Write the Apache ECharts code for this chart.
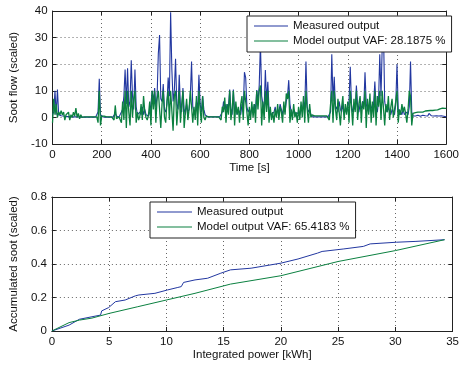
<!DOCTYPE html>
<html><head><meta charset="utf-8">
<script src="https://cdn.jsdelivr.net/npm/echarts@6/dist/echarts.min.js"></script>
<style>html,body{margin:0;padding:0;background:#fff;}#c{width:462px;height:367px;}</style>
</head><body><div id="c"></div>
<script>
// ---- Top plot: soot flow vs time (sampled every 5 s) ----
var timeStep = 5;
var measuredFlow = [
 1,2,10,1,10.5,1,0.8,0.6,0.5,0.5,0.4,0.3,0.3,0.3,0.3,0.2,0.2,0.2,0.2,0.2,
 0.2,0.2,0.2,0.1,0.1,0.1,0.1,0.1,0.1,0.1,0.1,0.1,0.1,0.1,0.1,0.1,0.1,2,14.5,1,
 0.3,0.2,0.1,0.1,0.1,0.1,0.1,0.1,0.1,0.1,0.1,1.5,0.5,0.1,0.1,0.5,2,3,8,18,
 5,18.5,4,6,21.5,8,3,18,4,1,0.5,2,1,4,1,3,1,0.5,0.5,2,
 5,10,6,11,4,8,24,31,7,6,12.5,3,2,5,15,8,39.5,18,6,10,
 22,5,3,16,4,2,11,3,1,5,2,3,8,21,4,2,1,6,3,16,
 5,2,8,3,1,0.3,0.2,0.2,0.2,0.2,0.2,0.2,0.2,0.2,0.2,0.2,0.2,0.5,2,6,
 3,5,2,4,10.5,3,1,10.5,2,4,1,3,2,1,5,2,17,15,4,2,
 3,1,4,2,5,3,10.3,6,12,28,8,5,3,17.8,6,13.4,3,2,1,0.5,
 2,4,1,3,2,5,3,1,4,2,6,8,14,5,2,1,3,2,1,0.5,
 2,1,4,2,6,3,21,4,2,3,1,0.5,0.2,0.2,0.2,0.2,0.2,0.2,0.2,0.2,
 0.2,0.2,0.2,0.2,0.2,0.2,2,23.7,6,15.3,3,4,2,6,3,2,5,1,3,2,
 4,6,19,5,2,4,3,12,4,2,5,3,6,4,17,5,3,2,6,4,
 3,5,13.5,4,2,6,23.7,8,27,33,6,3,2,4,2,1,3,2,1,5,
 20,3,1,2,1,3,1,0.5,2,1,4,21,2,0.5,0.3,0.5,1,0.8,0.5,0.4,
 0.5,0.8,1,0.6,0.5,0.5,1.5,0.8,0.6,0.5,0.5,0.4,0.6,0.5,0.5,1.2,0.6,0.5,0.4,0.3,0.2
];
var modelFlow = [
 -2,7,1,5,0,2,1,2.5,1,2,-1,1,0.5,2,-1,1,0,2,0.5,3.5,
 0,1.5,-0.5,1,0,0.5,0.2,0.2,0.2,0.2,0.2,0.2,0.2,0.2,0.2,0.2,0.2,-2,10,-3,
 0.5,0,0.5,0.2,0.2,0.2,0.2,0.2,0.2,0.2,-1,4.5,-0.5,0.2,0.2,0.5,-2,6,-1,10,
 -4,10,2,-3,10,0,7,10,-2,2,-1,0.5,5,-1,8,2,0,-1,1,6,
 -3,10,3,10,-2,7,10,10,-4,5,10,0,-2,6,10,-1,10,10,-5,8,
 10,-3,4,10,-2,5,10,-4,2,7,-1,3,10,10,-2,4,-1,8,-3,10,
 3,-2,8,0,-1,0.5,0.2,0.2,0.2,0.2,0.2,0.2,0.2,0.2,0.2,0.2,0.3,-1,4,2,
 7.5,-2,5,1,10,-1,3,10,-3,6,1,4,-2,5,8,-1,10,10,2,-3,
 4,-1,6,0,5,-2,10,3,10,12,-3,6,-1,10,2,10,-2,4,-1,2,
 -2,3,0,5,-1,4,2,-2,6,1,9,7,10,-2,3,-1,5,0,2,-2,
 4,-1,6,0,8,-2,10,3,-2,5,0,1,0.5,0.6,0.6,0.6,0.6,0.6,0.6,0.6,
 0.6,0.6,0.6,0.6,0.6,-1,5,10,-2,10,3,-1,7,2,-3,4,8,-1,5,1,
 6,-2,10,4,-3,7,2,10,-1,5,8,-2,6,3,10,-4,7,1,9,-2,
 6,0,10,-3,8,4,10,-1,10,10,-3,5,2,8,-1,4,7,0,3,6,
 10,-2,3,1,5,2,4,1.5,-2,3,10,8,-3,1.5,1.8,1.8,2,2,2,2,
 2,2,2.2,2.4,2.5,2.5,2.6,2.6,2.5,2.6,2.7,2.7,2.8,2.8,2.9,3.2,3.4,3.5,3.5,3.4,3.4
];
var topLegend = ['Measured output', 'Model output VAF: 28.1875 %'];

// ---- Bottom plot: accumulated soot vs integrated power ----
var measuredPower = [0,1.5,2.4,3.5,4.25,4.35,4.96,5.55,6.4,7.3,7.6,9.0,10.1,11.0,11.3,11.5,12.5,13.6,14.75,15.6,17.4,20.0,21.5,23.2,23.6,25.5,27.2,27.8,30.1,31.8,34.3];
var measuredSoot  = [0,0.035,0.07,0.085,0.095,0.12,0.14,0.175,0.185,0.21,0.215,0.225,0.245,0.26,0.265,0.29,0.305,0.315,0.345,0.365,0.375,0.405,0.43,0.465,0.475,0.49,0.505,0.52,0.53,0.535,0.545];
var modelPower = [0,1.5,2.4,3.5,5,7.5,10,12.5,15.6,20,25,30,34.3];
var modelSoot  = [0,0.05,0.065,0.077,0.105,0.145,0.185,0.225,0.28,0.33,0.415,0.48,0.545];
var bottomLegend = ['Measured output ', 'Model output VAF: 65.4183 %'];

var BLUE = '#2237a0', GREEN = '#0b8040';
var FONT = 'Liberation Sans';
function pairs(xs, ys){ return ys.map(function(y,i){ return [xs[i], y]; }); }
function stepPairs(ys){ return ys.map(function(y,i){ return [i*timeStep, y]; }); }
function plain(v){ return String(v); }

var gridLine = {show:true, lineStyle:{color:'#666', type:[1,3], width:1}};
var lbl = {color:'#111', fontFamily:FONT, fontSize:11.5, formatter:plain};
var nameStyle = {color:'#111', fontFamily:FONT, fontSize:11.5};
function mainX(gi, min, max, iv, name, gap){
  return {type:'value', gridIndex:gi, min:min, max:max, interval:iv, position:'bottom',
    axisLine:{show:true, onZero:false, lineStyle:{color:'#222', width:1}},
    axisTick:{show:true, inside:true, length:4, lineStyle:{color:'#222'}},
    axisLabel:Object.assign({margin:5}, lbl), splitLine:gridLine,
    name:name, nameLocation:'middle', nameGap:gap, nameTextStyle:nameStyle};
}
function mirrorX(gi, min, max, iv){
  return {type:'value', gridIndex:gi, min:min, max:max, interval:iv, position:'top',
    axisLine:{show:true, onZero:false, lineStyle:{color:'#222', width:1}},
    axisTick:{show:true, inside:true, length:4, lineStyle:{color:'#222'}},
    axisLabel:{show:false}, splitLine:{show:false}};
}
function mainY(gi, min, max, iv, name, gap){
  return {type:'value', gridIndex:gi, min:min, max:max, interval:iv, position:'left',
    axisLine:{show:true, onZero:false, lineStyle:{color:'#222', width:1}},
    axisTick:{show:true, inside:true, length:4, lineStyle:{color:'#222'}},
    axisLabel:Object.assign({margin:5}, lbl), splitLine:gridLine,
    name:name, nameLocation:'middle', nameGap:gap, nameTextStyle:nameStyle};
}
function mirrorY(gi, min, max, iv){
  return {type:'value', gridIndex:gi, min:min, max:max, interval:iv, position:'right',
    axisLine:{show:true, onZero:false, lineStyle:{color:'#222', width:1}},
    axisTick:{show:true, inside:true, length:4, lineStyle:{color:'#222'}},
    axisLabel:{show:false}, splitLine:{show:false}};
}
function legendBox(names, left, top, iw){
  return {data:names, orient:'vertical', left:left, top:top, padding:[4,6,5,7], itemGap:3,
    icon:'rect', itemWidth:iw, itemHeight:1.2, backgroundColor:'#fff', borderColor:'#222', borderWidth:1, borderRadius:0,
    textStyle:{color:'#111', fontFamily:FONT, fontSize:11.5, padding:[0,0,0,0]}, selectedMode:false};
}

var chart = echarts.init(document.getElementById('c'), null, {renderer:'canvas'});
chart.setOption({
  animation:false,
  backgroundColor:'#fff',
  grid:[
    {left:49, top:11, right:11.5, height:133},
    {left:49, top:197, right:8, height:134}
  ],
  xAxis:[
    mainX(0, 0, 1600, 200, 'Time [s]', 18),
    mirrorX(0, 0, 1600, 200),
    mainX(1, 0, 35, 5, 'Integrated power [kWh]', 17),
    mirrorX(1, 0, 35, 5)
  ],
  yAxis:[
    mainY(0, -10, 40, 10, 'Soot flow (scaled)', 28),
    mirrorY(0, -10, 40, 10),
    mainY(1, 0, 0.8, 0.2, 'Accumulated soot (scaled)', 25),
    mirrorY(1, 0, 0.8, 0.2)
  ],
  legend:[
    legendBox(topLegend, 247, 16, 34),
    legendBox(bottomLegend, 150, 202, 35)
  ],
  series:[
    {name:topLegend[0], type:'line', xAxisIndex:0, yAxisIndex:0, data:stepPairs(measuredFlow),
     showSymbol:false, symbol:'none', lineStyle:{color:BLUE, width:1.1}, itemStyle:{color:BLUE}},
    {name:topLegend[1], type:'line', xAxisIndex:0, yAxisIndex:0, data:stepPairs(modelFlow),
     showSymbol:false, symbol:'none', lineStyle:{color:GREEN, width:1.3}, itemStyle:{color:GREEN}},
    {name:bottomLegend[0], type:'line', xAxisIndex:2, yAxisIndex:2, data:pairs(measuredPower, measuredSoot),
     showSymbol:false, symbol:'none', lineStyle:{color:BLUE, width:1}, itemStyle:{color:BLUE}},
    {name:bottomLegend[1], type:'line', xAxisIndex:2, yAxisIndex:2, data:pairs(modelPower, modelSoot),
     showSymbol:false, symbol:'none', lineStyle:{color:GREEN, width:1}, itemStyle:{color:GREEN}}
  ]
});
</script></body></html>
